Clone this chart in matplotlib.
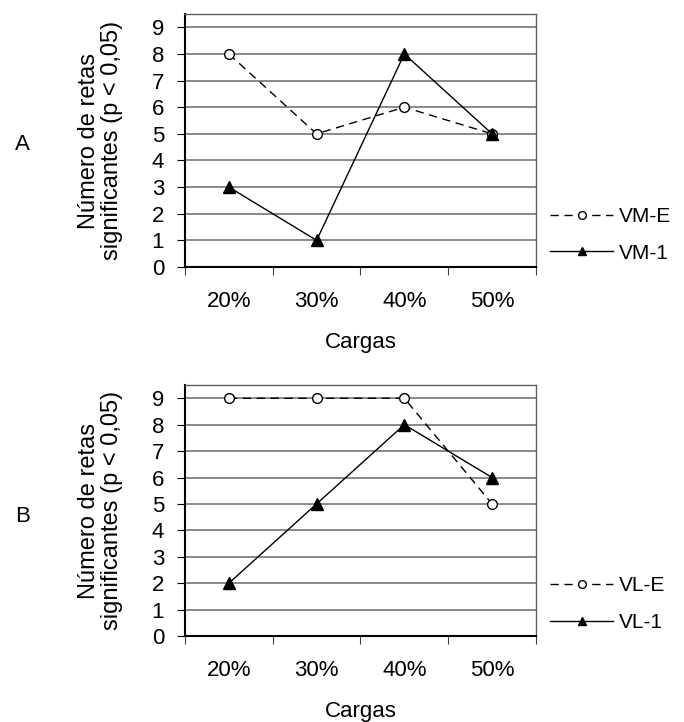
import matplotlib.pyplot as plt
import numpy as np

plt.rcParams['font.family'] = ['Liberation Sans', 'DejaVu Sans']

cargas = ["20%", "30%", "40%", "50%"]
vm_e = [8, 5, 6, 5]
vm_1 = [3, 1, 8, 5]
vl_e = [9, 9, 9, 5]
vl_1 = [2, 5, 8, 6]

panels = [
    ("A", "VM-E", vm_e, "VM-1", vm_1),
    ("B", "VL-E", vl_e, "VL-1", vl_1),
]

fig = plt.figure(figsize=(6.84, 7.22), dpi=100)
rects = [[0.2705, 0.6302, 0.513, 0.3504], [0.2705, 0.1191, 0.513, 0.3476]]
tag_y = [1 - 145 / 722, 1 - 517 / 722]
x = np.arange(len(cargas)) + 0.5

for rect, ty, (tag, lab_e, ser_e, lab_1, ser_1) in zip(rects, tag_y, panels):
    ax = fig.add_axes(rect)
    ax.plot(x, ser_e, color="black", lw=1, ls=(0, (6, 4)), marker="o", ms=7,
            mfc="white", mec="black", mew=1, label=lab_e)
    ax.plot(x, ser_1, color="black", lw=1, marker="^", ms=8, mfc="black",
            mec="black", label=lab_1)
    ax.set_xlim(0, 4)
    ax.set_ylim(0, 9.5)
    ax.set_yticks(range(10))
    ax.yaxis.grid(True, color="#808080", lw=1.3)
    ax.set_axisbelow(True)
    ax.set_xticks(range(5))
    ax.set_xticklabels([])
    ax.set_xticks(x, minor=True)
    ax.set_xticklabels(cargas, minor=True)
    ax.tick_params(axis="x", which="major", direction="out", length=6,
                   color="#404040")
    ax.tick_params(axis="x", which="minor", length=0, pad=17, labelsize=16)
    ax.tick_params(axis="y", direction="out", length=6, pad=9, labelsize=16)
    for s in ["left", "bottom"]:
        ax.spines[s].set_linewidth(1.5)
        ax.spines[s].set_color("black")
    for s in ["top", "right"]:
        ax.spines[s].set_linewidth(1)
        ax.spines[s].set_color("#606060")
    ax.set_xlabel("Cargas", fontsize=16, labelpad=15)
    ax.set_ylabel("Número de retas\nsignificantes (p < 0,05)", fontsize=17,
                  labelpad=21, linespacing=1.05)
    ax.legend(loc="center left", bbox_to_anchor=(1.0, 0.127), frameon=False,
              fontsize=15, handlelength=3.0, handletextpad=0.3,
              labelspacing=0.85, numpoints=1, borderaxespad=0.3,
              markerscale=0.8)
    fig.text(15 / 684, ty, tag, fontsize=16, ha="left", va="center")

fig.savefig("out.png", dpi=100)
